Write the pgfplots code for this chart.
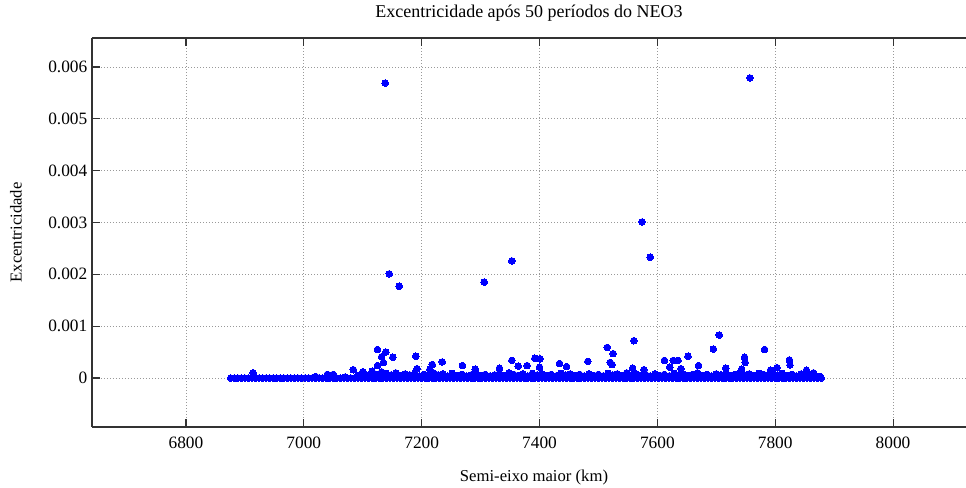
\documentclass[border=0pt]{standalone}
\usepackage{fontspec}
\setmainfont{Liberation Serif}
\usepackage{pgfplots}
\pgfplotsset{compat=1.18}
\begin{document}
\begin{tikzpicture}
\path[use as bounding box] (-69pt,-45.75pt) rectangle (655.5pt,320.25pt);
\begin{axis}[
  at={(0pt,0pt)}, anchor=south west,
  scale only axis, width=655.5pt, height=291.75pt,
  xmin=6640.5, xmax=8123.8, ymin=-0.000945, ymax=0.00656,
  axis x line*=box, axis y line*=left,
  axis line style={line width=0.8pt, color=black!80},
  tick align=inside, major tick length=6pt,
  tick style={line width=0.8pt, color=black!80},
  xtick={6800,7000,7200,7400,7600,7800,8000},
  xticklabels={6800,7000,7200,7400,7600,7800,8000},
  ytick={0,0.001,0.002,0.003,0.004,0.005,0.006},
  yticklabels={0,0.001,0.002,0.003,0.004,0.005,0.006},
  scaled y ticks=false, scaled x ticks=false,
  ticklabel style={font=\fontsize{13}{15}\selectfont},
  xticklabel style={yshift=-4pt},
  grid=major,
  major grid style={line width=0.6pt, color=black!40, dash pattern=on 0.75pt off 1.5pt},
  title={Excentricidade após 50 períodos do NEO3},
  title style={at={(0.5,1)}, anchor=center, yshift=12.5pt, font=\fontsize{13.5}{15}\selectfont},
  xlabel={Semi-eixo maior (km)},
  xlabel style={at={(0.5,0)}, anchor=center, yshift=-38pt, xshift=3.75pt, font=\fontsize{12.5}{15}\selectfont},
  ylabel={Excentricidade},
  ylabel style={at={(0,0.5)}, anchor=center, yshift=57pt, font=\fontsize{12.5}{15}\selectfont},
]
% baseline row (e ~ 0)
\addplot[only marks, mark=*, mark size=2.5pt, color=blue, mark options={line width=0pt}] coordinates {
(6876,0)(6882,0)(6888,0)(6894,0)(6900,0)(6906,0)(6912,0)(6918,0)(6924,0)(6930,0)
(6936,0)(6942,0)(6948,0)(6954,0)(6960,0)(6966,0)(6972,0)(6978,0)(6984,0)(6990,0)
(6996,0)(7002,0)(7008,0)(7014,0)(7020,0)(7026,0)(7032,0)(7038,0)(7044,0)(7050,0)
(7056,0)(7062,0)(7068,0)(7074,0)(7080,0)(7086,0)(7092,0)(7098,0)(7104,0)(7110,0)
(7116,0)(7122,0)(7128,0)(7134,0)(7140,0)(7146,0)(7152,0)(7158,0)(7164,0)(7170,0)
(7176,0)(7182,0)(7188,0)(7194,0)(7200,0)(7206,0)(7212,0)(7218,0)(7224,0)(7230,0)
(7236,0)(7242,0)(7248,0)(7254,0)(7260,0)(7266,0)(7272,0)(7278,0)(7284,0)(7290,0)
(7296,0)(7302,0)(7308,0)(7314,0)(7320,0)(7326,0)(7332,0)(7338,0)(7344,0)(7350,0)
(7356,0)(7362,0)(7368,0)(7374,0)(7380,0)(7386,0)(7392,0)(7398,0)(7404,0)(7410,0)
(7416,0)(7422,0)(7428,0)(7434,0)(7440,0)(7446,0)(7452,0)(7458,0)(7464,0)(7470,0)
(7476,0)(7482,0)(7488,0)(7494,0)(7500,0)(7506,0)(7512,0)(7518,0)(7524,0)(7530,0)
(7536,0)(7542,0)(7548,0)(7554,0)(7560,0)(7566,0)(7572,0)(7578,0)(7584,0)(7590,0)
(7596,0)(7602,0)(7608,0)(7614,0)(7620,0)(7626,0)(7632,0)(7638,0)(7644,0)(7650,0)
(7656,0)(7662,0)(7668,0)(7674,0)(7680,0)(7686,0)(7692,0)(7698,0)(7704,0)(7710,0)
(7716,0)(7722,0)(7728,0)(7734,0)(7740,0)(7746,0)(7752,0)(7758,0)(7764,0)(7770,0)
(7776,0)(7782,0)(7788,0)(7794,0)(7800,0)(7806,0)(7812,0)(7818,0)(7824,0)(7830,0)
(7836,0)(7842,0)(7848,0)(7854,0)(7860,0)(7866,0)(7872,0)(7878,0)
};
% second row (small eccentricities)
\addplot[only marks, mark=*, mark size=2.5pt, color=blue, mark options={line width=0pt}] coordinates {
(6914,0.00010)(7020,0.00003)(7040,0.00007)(7050,0.00007)(7070,0.00002)
(7092,0.00005)(7100,0.00008)(7108,0.00004)(7116,0.00010)(7124,0.00007)(7132,0.00012)(7140,0.00009)(7148,0.00006)(7156,0.00010)(7164,0.00005)
(7172,0.00008)(7180,0.00006)(7188,0.00009)(7196,0.00004)(7204,0.00007)(7212,0.00005)(7220,0.00010)(7228,0.00006)(7236,0.00008)(7244,0.00004)
(7252,0.00009)(7260,0.00005)(7268,0.00007)(7276,0.00004)(7284,0.00006)(7292,0.00008)(7300,0.00005)(7308,0.00007)(7316,0.00004)(7324,0.00006)
(7332,0.00009)(7340,0.00005)(7348,0.00010)(7356,0.00007)(7364,0.00005)(7372,0.00008)(7380,0.00004)(7388,0.00009)(7396,0.00006)(7404,0.00008)
(7412,0.00005)(7420,0.00007)(7428,0.00004)(7436,0.00009)(7444,0.00006)(7452,0.00008)(7460,0.00005)(7468,0.00007)(7476,0.00004)(7484,0.00008)
(7492,0.00005)(7500,0.00007)(7508,0.00004)(7516,0.00009)(7524,0.00006)(7532,0.00008)(7540,0.00005)(7548,0.00010)(7556,0.00006)(7564,0.00008)
(7572,0.00005)(7580,0.00007)(7588,0.00004)(7596,0.00008)(7604,0.00005)(7612,0.00007)(7620,0.00004)(7628,0.00009)(7636,0.00006)(7644,0.00008)
(7652,0.00005)(7660,0.00007)(7668,0.00010)(7676,0.00005)(7684,0.00007)(7692,0.00004)(7700,0.00008)(7708,0.00006)(7716,0.00009)(7724,0.00005)
(7732,0.00007)(7740,0.00010)(7748,0.00006)(7756,0.00008)(7764,0.00005)(7772,0.00009)(7780,0.00007)(7788,0.00005)(7796,0.00008)(7804,0.00006)
(7812,0.00009)(7820,0.00005)(7828,0.00007)(7836,0.00004)(7844,0.00008)(7852,0.00006)(7860,0.00005)(7868,0.00004)(7876,0.00003)
};
% scattered points
\addplot[only marks, mark=*, mark size=2.5pt, color=blue, mark options={line width=0pt}] coordinates {
(7138,0.00569)(7757,0.00579)(7574,0.00301)(7588,0.00233)(7145,0.00201)(7162,0.00177)(7306,0.00185)(7353,0.00226)
(7125,0.00055)(7132,0.00041)(7139,0.00050)(7151,0.00040)(7084,0.00016)(7125,0.00024)(7135,0.00030)(7116,0.00013)
(7190,0.00042)(7192,0.00018)(7218,0.00026)(7235,0.00031)(7214,0.00017)(7269,0.00024)(7291,0.00017)(7332,0.00019)
(7353,0.00034)(7364,0.00023)(7379,0.00024)(7392,0.00038)(7401,0.00037)(7400,0.00021)(7434,0.00028)(7446,0.00022)
(7482,0.00032)(7515,0.00059)(7525,0.00047)(7520,0.00030)(7523,0.00026)(7560,0.00072)(7577,0.00016)(7558,0.00019)
(7612,0.00034)(7621,0.00021)(7627,0.00034)(7635,0.00034)(7640,0.00018)(7652,0.00042)(7670,0.00024)(7695,0.00056)
(7705,0.00083)(7716,0.00019)(7748,0.00040)(7749,0.00030)(7743,0.00017)(7782,0.00055)(7792,0.00015)(7803,0.00020)
(7824,0.00035)(7825,0.00025)(7853,0.00015)(7865,0.00010)(7103,0.00008)(7100,0.00012)
};
\end{axis}
\end{tikzpicture}
\end{document}
